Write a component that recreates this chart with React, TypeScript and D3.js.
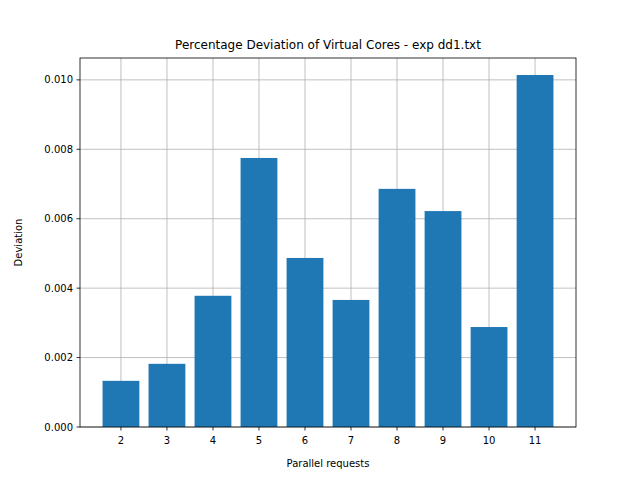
import React from "react";
import * as d3 from "d3";

const categories = [2, 3, 4, 5, 6, 7, 8, 9, 10, 11];
const values = [0.00133, 0.00182, 0.00378, 0.00775, 0.00487, 0.00366, 0.00686, 0.00622, 0.00288, 0.01014];
const yTicks = [0, 0.002, 0.004, 0.006, 0.008, 0.01];

export default function App() {
  const L = 80, R = 576, T = 58, B = 427;
  const x = d3.scaleLinear().domain([1.11, 11.89]).range([L, R]);
  const y = d3.scaleLinear().domain([0, 0.01063]).range([B, T]);
  const bw = x(1.8) - x(1);
  const font = "DejaVu Sans";
  return (
    <svg width={640} height={480} style={{ position: "absolute", left: 0, top: 0 }} fontFamily={font}>
      <rect width={640} height={480} fill="white" />
      {categories.map(c => (
        <line key={"gx" + c} x1={x(c)} x2={x(c)} y1={T} y2={B} stroke="#b0b0b0" strokeWidth={0.8} />
      ))}
      {yTicks.map(t => (
        <line key={"gy" + t} x1={L} x2={R} y1={y(t)} y2={y(t)} stroke="#b0b0b0" strokeWidth={0.8} />
      ))}
      {categories.map((c, i) => (
        <rect key={c} x={x(c) - bw / 2} width={bw} y={y(values[i])} height={B - y(values[i])} fill="#1f77b4" />
      ))}
      <rect x={L} y={T} width={R - L} height={B - T} fill="none" stroke="black" strokeWidth={0.8} />
      {categories.map(c => (
        <g key={"tx" + c}>
          <line x1={x(c)} x2={x(c)} y1={B} y2={B + 3.5} stroke="black" strokeWidth={0.8} />
          <text x={x(c)} y={B + 17} textAnchor="middle" fontSize={10}>{c}</text>
        </g>
      ))}
      {yTicks.map(t => (
        <g key={"ty" + t}>
          <line x1={L - 3.5} x2={L} y1={y(t)} y2={y(t)} stroke="black" strokeWidth={0.8} />
          <text x={L - 7} y={y(t) + 3.5} textAnchor="end" fontSize={10}>{t.toFixed(3)}</text>
        </g>
      ))}
      <text x={(L + R) / 2} y={467} textAnchor="middle" fontSize={10}>Parallel requests</text>
      <text transform={`translate(22,${(T + B) / 2}) rotate(-90)`} textAnchor="middle" fontSize={10}>Deviation</text>
      <text x={(L + R) / 2} y={49} textAnchor="middle" fontSize={12}>Percentage Deviation of Virtual Cores - exp dd1.txt</text>
    </svg>
  );
}
